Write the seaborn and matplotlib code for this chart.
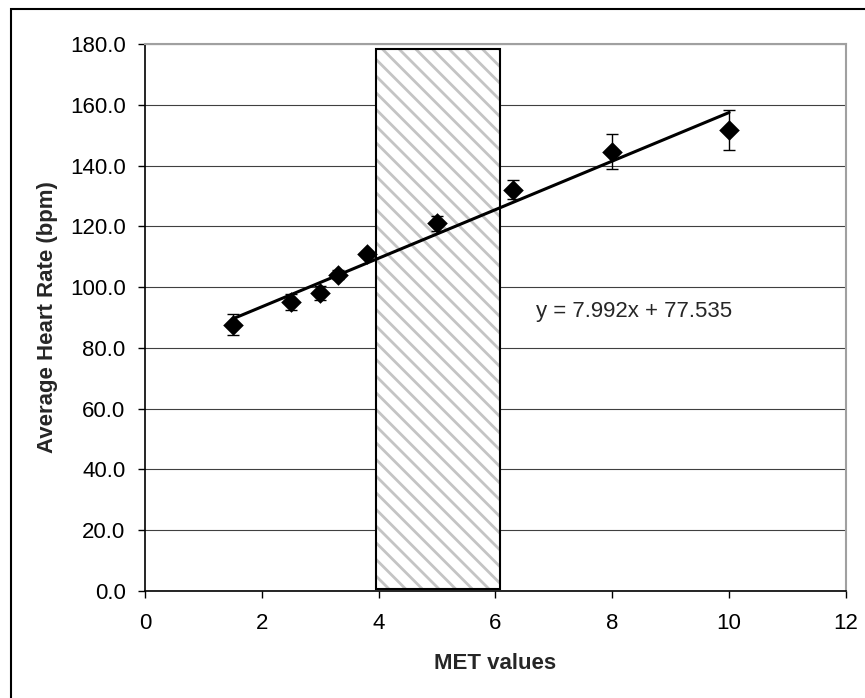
import numpy as np
import pandas as pd
import matplotlib
matplotlib.use("Agg")
import matplotlib.pyplot as plt
import matplotlib.patches as mpatches
from matplotlib.ticker import FormatStrFormatter
import seaborn as sns

# MET values and average heart rate (bpm) with error bar half-widths
met = [1.5, 2.5, 3.0, 3.3, 3.8, 5.0, 6.3, 8.0, 10.0]
heart_rate = [87.6, 95.1, 98.2, 104.0, 110.8, 121.0, 132.1, 144.5, 151.7]
hr_err = [3.5, 2.7, 2.3, 1.5, 1.0, 2.5, 3.0, 5.8, 6.7]

# linear trendline shown on the chart
slope, intercept = 7.992, 77.535
trend_x = [1.5, 10.0]

# shaded moderate-intensity band
band_x = [3.95, 6.08]
band_top = 178.0

df = pd.DataFrame({"met": met, "hr": heart_rate, "err": hr_err})
trend = pd.DataFrame({"x": trend_x, "y": [slope * x + intercept for x in trend_x]})

sns.set_style("white")
plt.rcParams["font.family"] = ["Liberation Sans", "DejaVu Sans"]
plt.rcParams["hatch.linewidth"] = 2.0

fig = plt.figure(figsize=(8.65, 6.98), dpi=100)
ax = fig.add_axes([0.1676, 0.1533, 0.8104, 0.7837])

# hatched band (hatch layer, then black outline)
ax.bar(band_x[0], band_top, width=band_x[1] - band_x[0], align="edge",
       bottom=0.5, color="white", edgecolor="#c4c4c4", hatch="\\\\",
       linewidth=0, zorder=2)
ax.bar(band_x[0], band_top, width=band_x[1] - band_x[0], align="edge",
       bottom=0.5, fill=False, edgecolor="black", linewidth=1.5, zorder=2)

ax.errorbar(df["met"], df["hr"], yerr=df["err"], fmt="none", ecolor="black",
            elinewidth=1.0, capsize=4.5, capthick=1.0, zorder=3)
sns.lineplot(data=trend, x="x", y="y", color="black", linewidth=2.2,
             ax=ax, zorder=4)
sns.scatterplot(data=df, x="met", y="hr", marker="D", s=110, color="black",
                edgecolor="black", linewidth=0, ax=ax, zorder=5)

ax.text(6.7, 92.0, f"y = {slope}x + {intercept}", fontsize=16,
        va="center", ha="left")

ax.set_xlim(0, 12)
ax.set_ylim(0, 180)
ax.set_xticks(np.arange(0, 13, 2))
ax.set_yticks(np.arange(0, 181, 20))
ax.yaxis.set_major_formatter(FormatStrFormatter("%.1f"))
ax.yaxis.grid(True, color="#404040", linewidth=0.8)
ax.set_axisbelow(True)

ax.tick_params(axis="both", labelsize=16, direction="out", length=5,
               width=1, colors="black")
ax.tick_params(axis="x", pad=11, bottom=True)
ax.tick_params(axis="y", pad=9, left=True)

for side in ["left", "bottom"]:
    ax.spines[side].set_color("black")
    ax.spines[side].set_linewidth(1.2)
for side in ["top", "right"]:
    ax.spines[side].set_color("#a0a0a0")
    ax.spines[side].set_linewidth(1.5)

ax.set_xlabel("MET values", fontsize=16, fontweight="bold")
ax.set_ylabel("Average Heart Rate (bpm)", fontsize=16, fontweight="bold")
ax.xaxis.set_label_coords(0.5, -0.113)
ax.yaxis.set_label_coords(-0.124, 0.5)

# outer chart frame
fig.patches.append(mpatches.Rectangle((11 / 865, -0.02), 1.05, 1 - 9 / 698 + 0.02,
                                      transform=fig.transFigure, fill=False,
                                      edgecolor="black", linewidth=1.5))

fig.savefig("out.png", dpi=100)
